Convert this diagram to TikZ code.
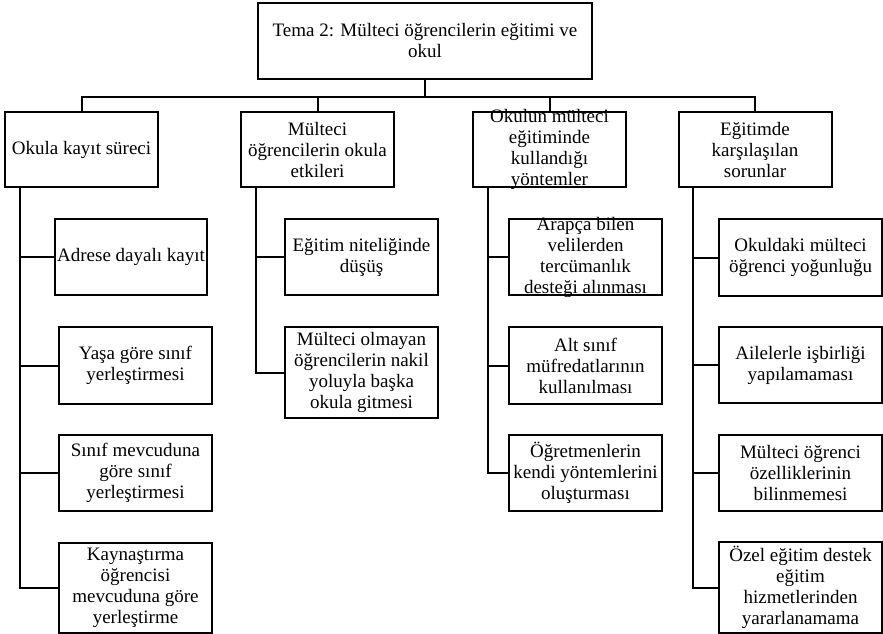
\documentclass[tikz,border=0pt]{standalone}
\usepackage{fontspec}
\setmainfont{Liberation Serif}
\usetikzlibrary{positioning}

\begin{document}
\begin{tikzpicture}[x=1pt, y=-1pt, line width=2pt,
    box/.style={draw, align=center, inner sep=0pt, minimum width=153pt,
      minimum height=76pt, font=\fontsize{19}{21}\selectfont},
    tight/.style={inner ysep=-4pt}]
  \useasboundingbox (0,0) rectangle (883,634);
  \path (425, 41) node [box, minimum width=334pt] (theme) {Tema 2: Mülteci öğrencilerin eğitimi ve\\okul}
        ( 81.5,149.5) node [box, minimum height=75pt] (enrolment) {Okula kayıt süreci}
        (317.5,149.5) node [box, minimum height=75pt] (effects) {Mülteci\\öğrencilerin okula\\etkileri}
        (549.5,149.5) node [box, tight, minimum height=75pt] (methods) {Okulun mülteci\\eğitiminde\\kullandığı\\yöntemler}
        (755,149.5) node [box, minimum height=75pt] (problems) {Eğitimde\\karşılaşılan\\sorunlar};
  % alt kutular
  \path (131,257) node [box, minimum width=152pt] (address) {Adrese dayalı kayıt}
        (135.5,365.5) node [box, minimum height=77pt] (age) {Yaşa göre sınıf\\yerleştirmesi}
        (135.5,473) node [box] (classsize) {Sınıf mevcuduna\\göre sınıf\\yerleştirmesi}
        (135.5,588) node [box, minimum height=90pt] (inclusion) {Kaynaştırma\\öğrencisi\\mevcuduna göre\\yerleştirme};
  \path (361.5,257) node [box] (quality) {Eğitim niteliğinde\\düşüş}
        (361.5,372.5) node [box, minimum height=91pt] (transfer) {Mülteci olmayan\\öğrencilerin nakil\\yoluyla başka\\okula gitmesi};
  \path (585.5,257) node [box, tight] (arabic) {Arapça bilen\\velilerden\\tercümanlık\\desteği alınması}
        (585.5,365.5) node [box, minimum height=77pt] (lowergrade) {Alt sınıf\\müfredatlarının\\kullanılması}
        (585.5,473) node [box] (teachers) {Öğretmenlerin\\kendi yöntemlerini\\oluşturması};
  \path (800.5,257.5) node [box, minimum width=163pt, minimum height=77pt] (density) {Okuldaki mülteci\\öğrenci yoğunluğu}
        (800.5,365) node [box, minimum width=163pt] (families) {Ailelerle işbirliği\\yapılamaması}
        (800.5,473) node [box, minimum width=163pt] (features) {Mülteci öğrenci\\özelliklerinin\\bilinmemesi}
        (800.5,587.5) node [box, minimum width=163pt, minimum height=91pt] (special) {Özel eğitim destek\\eğitim\\hizmetlerinden\\yararlanamama};
  \coordinate (bar) at (425,97);
  \draw (theme) to (bar);
  \draw (enrolment.north) |- (bar) -| (problems.north);
  \draw (effects.north) to (effects.north |- bar);
  \draw (methods.north) to (methods.north |- bar);
  \foreach \head/\kids in {enrolment/{address,age,classsize,inclusion},
      effects/{quality,transfer}, methods/{arabic,lowergrade,teachers},
      problems/{density,families,features,special}}
    \foreach \kid in \kids
      \draw ([xshift=15.5pt]\head.south west) |- (\kid.west);
\end{tikzpicture}
\end{document}
